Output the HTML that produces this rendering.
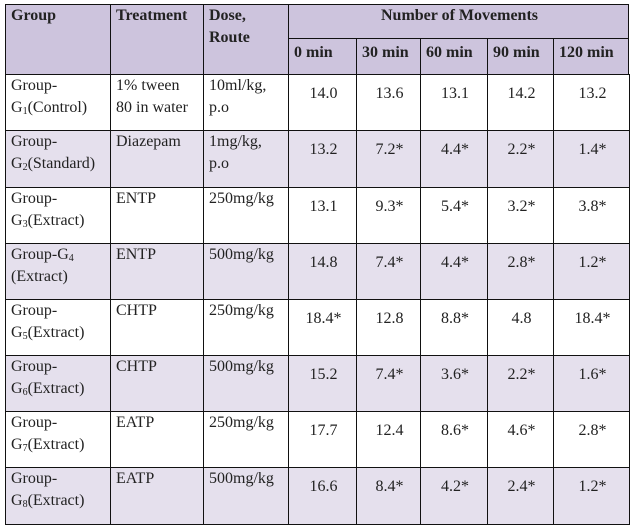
<!DOCTYPE html>
<html><head><meta charset="utf-8"><style>
body{margin:0;width:634px;height:525px;background:#fff;font-family:"Liberation Serif","Times New Roman",serif;font-size:16px;color:#222;position:relative;overflow:hidden}
.c{position:absolute;box-sizing:border-box;border:1.5px solid #111;padding:0 3px 0 5px;line-height:22px}
.h{background:#cdc4dd;font-weight:bold}
.l{background:#e5e0ed}
.n{text-align:center;padding-top:8px}
sub{font-size:10px;vertical-align:-2px;line-height:0}
</style></head><body>
<div class="c h" style="left:5px;top:4px;width:106px;height:71px">Group</div>
<div class="c h" style="left:110px;top:4px;width:94px;height:71px">Treatment</div>
<div class="c h" style="left:203px;top:4px;width:86px;height:71px">Dose,<br>Route</div>
<div class="c h" style="left:288px;top:4px;width:341px;height:35px;text-align:center;padding-top:0">Number of Movements</div>
<div class="c h" style="left:288px;top:38px;width:69px;height:37px;padding-top:3px">0 min</div>
<div class="c h" style="left:356px;top:38px;width:65px;height:37px;padding-top:3px">30 min</div>
<div class="c h" style="left:420px;top:38px;width:68px;height:37px;padding-top:3px">60 min</div>
<div class="c h" style="left:487px;top:38px;width:67px;height:37px;padding-top:3px">90 min</div>
<div class="c h" style="left:553px;top:38px;width:76px;height:37px;padding-top:3px">120 min</div>
<div id="rows"></div>
<script>
var rows=[
["Group-<br>G<sub>1</sub>(Control)","1% tween<br>80 in water","10ml/kg,<br>p.o",["14.0","13.6","13.1","14.2","13.2"]],
["Group-<br>G<sub>2</sub>(Standard)","Diazepam","1mg/kg,<br>p.o",["13.2","7.2*","4.4*","2.2*","1.4*"]],
["Group-<br>G<sub>3</sub>(Extract)","ENTP","250mg/kg",["13.1","9.3*","5.4*","3.2*","3.8*"]],
["Group-G<sub>4</sub><br>(Extract)","ENTP","500mg/kg",["14.8","7.4*","4.4*","2.8*","1.2*"]],
["Group-<br>G<sub>5</sub>(Extract)","CHTP","250mg/kg",["18.4*","12.8","8.8*","4.8","18.4*"]],
["Group-<br>G<sub>6</sub>(Extract)","CHTP","500mg/kg",["15.2","7.4*","3.6*","2.2*","1.6*"]],
["Group-<br>G<sub>7</sub>(Extract)","EATP","250mg/kg",["17.7","12.4","8.6*","4.6*","2.8*"]],
["Group-<br>G<sub>8</sub>(Extract)","EATP","500mg/kg",["16.6","8.4*","4.2*","2.4*","1.2*"]]];
var ys=[74,130,187,243,299,355,411,467,524];
var xs=[5,110,203,288,356,420,487,553,629];
var h="";
rows.forEach(function(r,i){
 var y=ys[i],hh=ys[i+1]-y+1,cl=i%2?"c l":"c";
 var cells=[r[0],r[1],r[2]].concat(r[3]);
 cells.forEach(function(t,j){
  h+='<div class="'+cl+(j>2?' n':'')+'" style="left:'+xs[j]+'px;top:'+y+'px;width:'+(xs[j+1]-xs[j]+1)+'px;height:'+hh+'px">'+t+'</div>';
 });
});
document.getElementById("rows").innerHTML=h;
</script>
</body></html>
